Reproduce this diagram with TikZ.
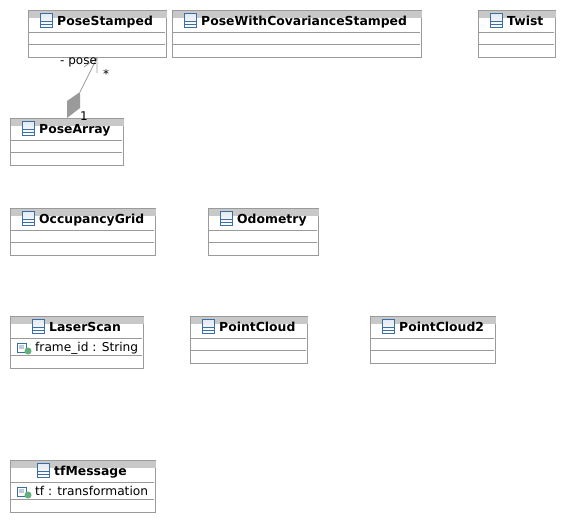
\documentclass[tikz,border=0pt]{standalone}
\usepackage{fontspec}
\setmainfont{DejaVu Sans}
\usetikzlibrary{calc}
\definecolor{framegray}{HTML}{9A9A9A}
\definecolor{headgray}{HTML}{C8C8C8}
\definecolor{iconblue}{HTML}{3B6EA5}
\definecolor{icongreen}{HTML}{5FB07A}
\tikzset{
  classbox/.style={draw=framegray,line width=1pt,fill=white,inner sep=0pt,anchor=north west},
  classtitle/.style={anchor=base west,inner sep=0pt,font=\fontsize{12.4}{14}\selectfont\bfseries},
  attrtext/.style={anchor=base west,inner sep=0pt,font=\fontsize{12.2}{14}\selectfont},
  endlabel/.style={inner sep=0pt,font=\fontsize{12}{14}\selectfont},
  sepline/.style={draw=framegray,line width=0.8pt}
}
% #1 name, #2 left, #3 top, #4 width, #5 height, #6 title x, #7 title
\newcommand{\classnode}[7]{
  \node[classbox,minimum width=#4pt,minimum height=#5pt] (#1) at (#2,#3) {};
  \fill[headgray] ($(#1.north west)+(0.5,0.5)$) rectangle ($(#1.north east)+(-0.5,8)$);
  \draw[iconblue,top color=iconblue!15,bottom color=white,line width=0.8pt] (#6-17,#3+3.5) rectangle (#6-5,#3+17);
  \draw[iconblue,line width=0.8pt] (#6-17,#3+11) -- (#6-5,#3+11) (#6-17,#3+14) -- (#6-5,#3+14);
  \node[classtitle] (#1title) at (#6,#3+15) {#7};
}
% #1 class name, #2 x of icon, #3 y of first separator
\newcommand{\attricon}[3]{
  \draw[iconblue,fill=white,line width=0.8pt] (#2,#3+5) rectangle (#2+9,#3+14);
  \fill[iconblue!35] (#2+2,#3+7) rectangle (#2+7,#3+11);
  \fill[icongreen] (#2+11,#3+13) circle (3.5pt);
}
\begin{document}
\begin{tikzpicture}[x=1pt,y=-1pt]
  \useasboundingbox (0,0) rectangle (565,523);

  \classnode{poseStamped}{28}{10}{138}{47}{57}{PoseStamped}
  \classnode{poseCov}{172}{10}{249}{47}{201}{PoseWithCovarianceStamped}
  \classnode{twist}{478}{10}{77}{47}{507}{Twist}
  \classnode{poseArray}{10}{118}{113}{47}{39}{PoseArray}
  \classnode{occGrid}{10}{208}{145}{47}{39}{OccupancyGrid}
  \classnode{odometry}{208}{208}{110}{47}{237}{Odometry}
  \classnode{laserScan}{10}{316}{133}{52}{49}{LaserScan}
  \classnode{pointCloud}{190}{316}{117}{47}{219}{PointCloud}
  \classnode{pointCloudTwo}{370}{316}{125}{47}{399}{PointCloud2}
  \classnode{tfMessage}{10}{460}{145}{52}{54}{tfMessage}

  % separators
  \foreach \nm/\ya/\yb in {poseStamped/22/34,poseCov/22/34,twist/22/34,poseArray/22/34,occGrid/22/34,odometry/22/34,pointCloud/22/34,pointCloudTwo/22/34,laserScan/22/39,tfMessage/22/39}{
    \draw[sepline] ($(\nm.north west)+(1,\ya)$) -- ($(\nm.north east)+(-2,\ya)$);
    \draw[sepline] ($(\nm.north west)+(1,\yb)$) -- ($(\nm.north east)+(-2,\yb)$);
  }

  % attributes
  \attricon{laserScan}{17}{338}
  \node[attrtext] (laserAttr) at (35,351) {frame\_id : String};
  \attricon{tfMessage}{17}{482}
  \node[attrtext] (tfAttr) at (35,495) {tf : transformation};

  % association
  \coordinate (diamondB) at (67,118);
  \coordinate (diamondL) at (67,101);
  \coordinate (diamondT) at (80,92);
  \coordinate (diamondR) at (80,108);
  \coordinate (assocEnd) at (97,58);
  \fill[framegray] (diamondB) -- (diamondL) -- (diamondT) -- (diamondR) -- cycle;
  \draw[framegray,line width=0.7pt] (diamondT) -- (assocEnd);
  \draw[framegray,line width=0.7pt] (84,67) -- (assocEnd) -- (97,73);

  \node[endlabel,anchor=base west] (poseLabel) at (60,64) {- pose};
  \node[endlabel,anchor=base] (manyLabel) at (106,78) {*};
  \node[endlabel,anchor=base] (oneLabel) at (84,120) {1};
\end{tikzpicture}
\end{document}
